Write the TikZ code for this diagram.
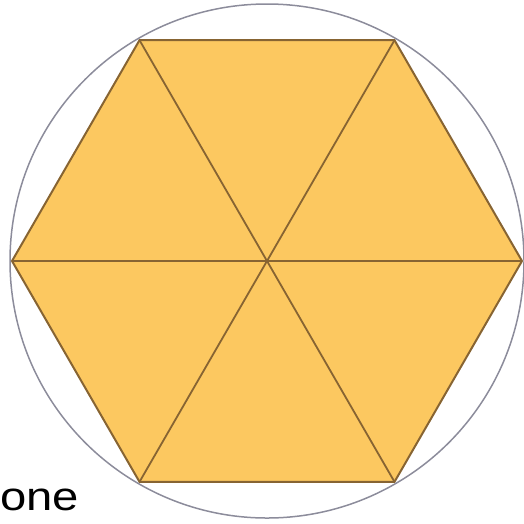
\documentclass[tikz,border=0pt]{standalone}
\usepackage{fontspec}
\setmainfont{Liberation Sans}
\usetikzlibrary{calc}
\definecolor{hexfill}{RGB}{252,200,96}
\definecolor{hexline}{RGB}{135,100,50}
\definecolor{circline}{RGB}{140,140,155}
\begin{document}
\begin{tikzpicture}[x=1pt,y=-1pt,
  hexedge/.style={draw=hexline,line width=2pt,line join=miter},
  spoke/.style={draw=hexline,line width=1.8pt},
  circ/.style={draw=circline,line width=1.5pt},
  lbl/.style={font=\fontsize{40}{40}\selectfont,inner sep=0pt,anchor=base west}]
\useasboundingbox (0,0) rectangle (524,523);
\coordinate (O) at (267,261);
\foreach \i in {0,...,5}{
  \coordinate (V\i) at ($(O)+(\i*60:255)$);
}
\fill[hexfill] (V0)--(V1)--(V2)--(V3)--(V4)--(V5)--cycle;
\draw[spoke] (V0)--(V3) (V1)--(V4) (V2)--(V5);
\draw[hexedge] (V0)--(V1)--(V2)--(V3)--(V4)--(V5)--cycle;
\draw[circ] (O) circle (257);
\node[lbl,xscale=1.18,transform shape] (one) at (0,510) {one};
\end{tikzpicture}
\end{document}
